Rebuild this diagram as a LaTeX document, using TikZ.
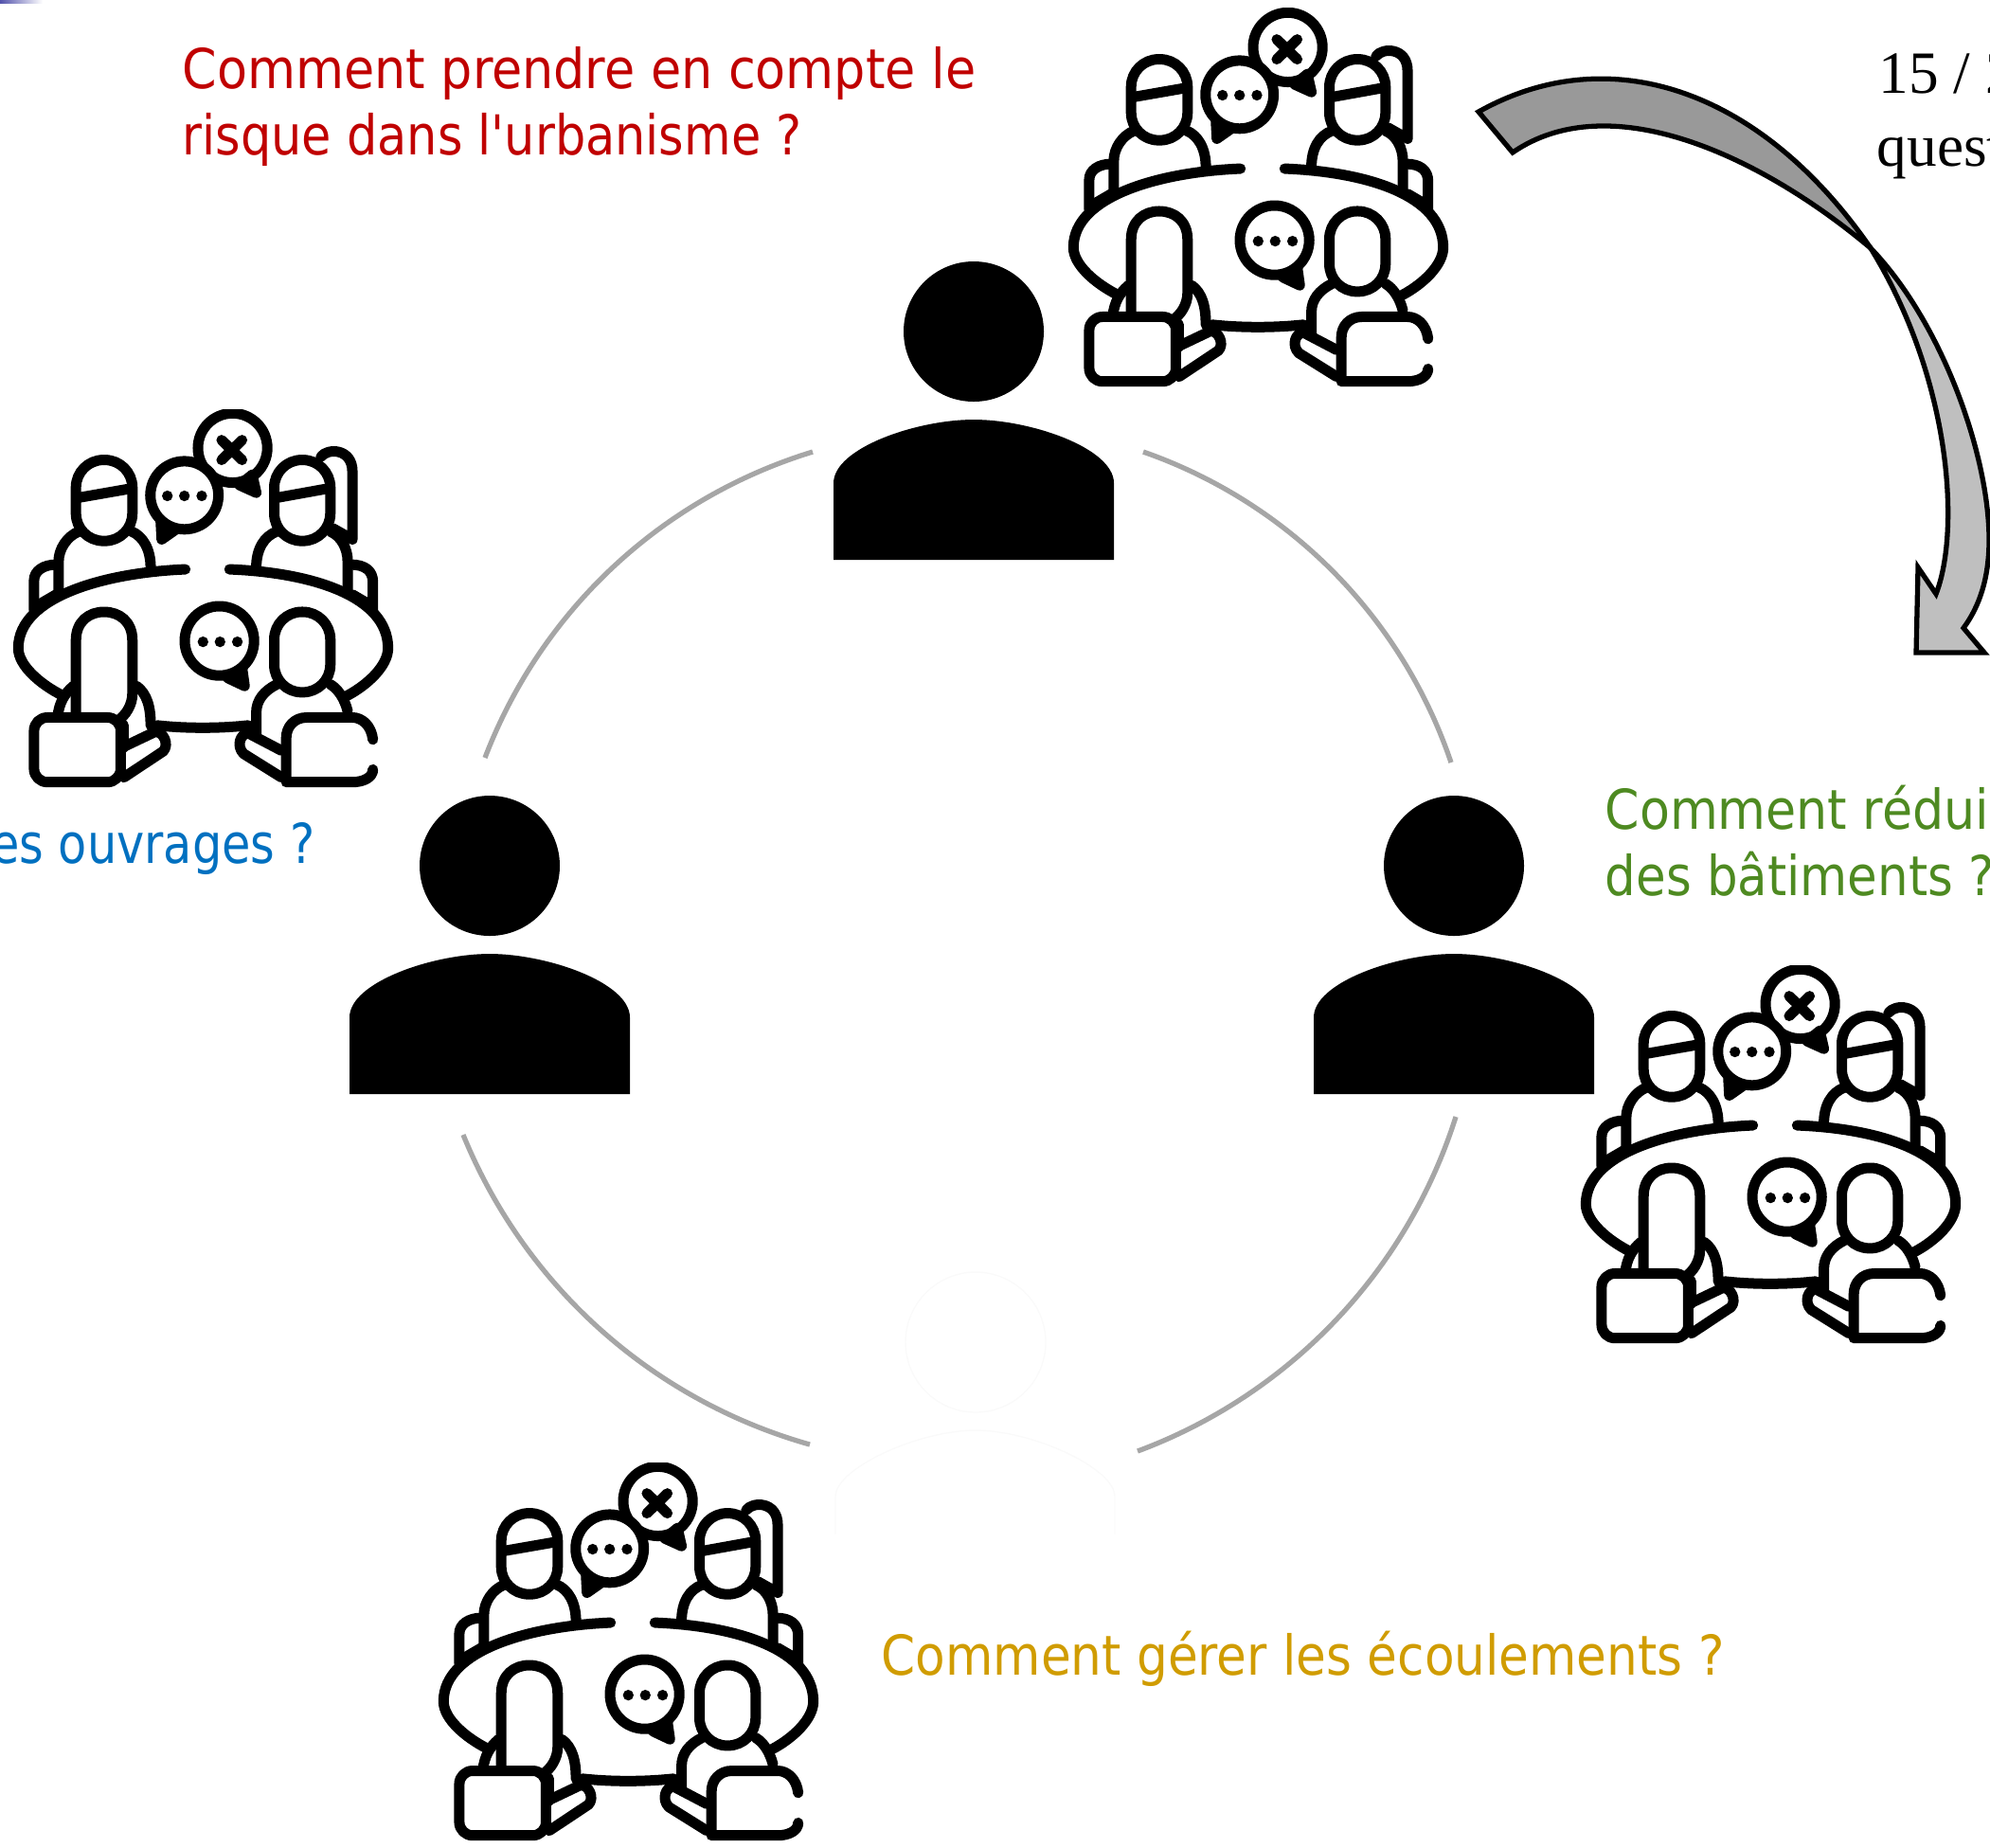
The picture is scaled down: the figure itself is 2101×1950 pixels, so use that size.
\documentclass[tikz,border=0pt]{standalone}
\usepackage{fontspec}
\usepackage{graphicx}
\setmainfont{Liberation Serif}
\newfontfamily\tah{DejaVu Sans Condensed}
\usetikzlibrary{calc}
\definecolor{cred}{HTML}{C00000}
\definecolor{cblue}{HTML}{0070C0}
\definecolor{cgreen}{HTML}{4E8A21}
\definecolor{corange}{HTML}{D09C00}
\definecolor{arcgray}{HTML}{A6A6A6}
\definecolor{arrowdark}{HTML}{999999}
\definecolor{arrowlight}{HTML}{BFBFBF}
\tikzset{
  qtext/.style={anchor=base west,inner sep=0pt,font=\tah\fontsize{16.5}{20}\selectfont},
  serif/.style={anchor=base west,inner sep=0pt,font=\fontsize{18}{22}\selectfont},
  ring/.style={draw=arcgray,line width=1.5pt},
  ringarc/.style={bend left=26,looseness=.9},
  ln/.style={line width=.11cm,line cap=round,line join=round},
  arrowline/.style={draw=black,line width=1.5pt,line join=miter},
  meeting/.pic={
    \begin{scope}[x=.0033333cm,y=-.0033333cm]
      \clip (40,27) rectangle (1270,1226);
      \begin{scope}[ln]
      % back left person
      \draw[rounded corners=.29cm] (253,188) rectangle (432,445);
      \draw (265,307) -- (420,280);
      \draw (198,610) -- (198,510) .. controls (198,470) and (225,430) .. (262,415);
      \draw (430,415) .. controls (465,430) and (490,470) .. (490,530);
      \draw (120,665) -- (120,570) .. controls (120,540) and (150,520) .. (190,520);
      \draw (130,650) -- (190,615);
      % back right person
      \draw[rounded corners=.29cm] (882,188) rectangle (1060,445);
      \draw (895,307) -- (1045,280);
      \draw (825,530) .. controls (825,470) and (850,430) .. (890,415);
      \draw (1060,415) .. controls (1095,430) and (1115,470) .. (1115,510) -- (1115,605);
      \draw (1030,178) .. controls (1050,150) and (1130,150) .. (1130,225) -- (1130,440) -- (1068,405);
      \draw (1125,520) .. controls (1170,520) and (1195,540) .. (1195,575) -- (1195,670);
      \draw (1130,615) -- (1190,650);
      % table
      \draw (600,535) .. controls (350,545) and (70,620) .. (70,785) .. controls (70,840) and (140,900) .. (210,935);
      \draw (740,535) .. controls (1000,545) and (1243,620) .. (1243,785) .. controls (1243,840) and (1180,900) .. (1115,935);
      \draw (510,1030) .. controls (600,1040) and (710,1040) .. (800,1030);
      % bubbles
      \draw (750,150) circle[radius=110];
      \draw[fill=black] (812,235) -- (825,292) -- (772,268) -- cycle;
      \draw (715,125) -- (780,188);
      \draw (780,125) -- (715,188);
      \draw[fill=white] (597,300) circle[radius=108];
      \draw[fill=black] (522,385) -- (525,440) -- (565,412) -- cycle;
      \fill (543,302) circle[radius=17] (597,302) circle[radius=17] (652,302) circle[radius=17];
      \draw (708,762) circle[radius=110];
      \draw[fill=black] (780,848) -- (788,905) -- (735,880) -- cycle;
      \fill (656,765) circle[radius=17] (710,765) circle[radius=17] (765,765) circle[radius=17];
      % front left person
      \draw (253,990) -- (253,760) .. controls (253,700) and (295,670) .. (342,670) .. controls (390,670) and (432,700) .. (432,760) -- (432,930) .. controls (432,965) and (410,1000) .. (385,1015);
      \draw (195,1000) .. controls (200,960) and (215,930) .. (245,905);
      \draw (445,905) .. controls (480,930) and (490,975) .. (490,1030);
      \draw[rounded corners=.14cm] (120,1005) rectangle (395,1210);
      \draw (400,1100) -- (505,1050) .. controls (530,1050) and (550,1090) .. (530,1112) -- (405,1195);
      \draw (405,1030) -- (405,1100);
      % front right person
      \draw[rounded corners=.29cm] (882,670) rectangle (1060,925);
      \draw (825,1065) -- (825,990) .. controls (825,950) and (850,920) .. (890,900);
      \draw (1060,900) .. controls (1085,915) and (1105,945) .. (1115,985);
      \draw (1195,1075) .. controls (1190,1030) and (1160,1005) .. (1130,1005) -- (985,1005) .. controls (945,1005) and (920,1035) .. (920,1070) -- (920,1210) -- (1130,1210) .. controls (1165,1210) and (1195,1195) .. (1195,1170);
      \draw (905,1110) -- (800,1055) .. controls (775,1055) and (760,1095) .. (785,1120) -- (905,1195);
      \end{scope}
    \end{scope}
  },
  person/.pic={
    \fill (0,-91) circle[radius=74];
    \fill (-148,150) -- (-148,69) .. controls (-148,32) and (-60,2) .. (0,2) .. controls (60,2) and (148,32) .. (148,69) -- (148,150) -- cycle;
  },
}
\begin{document}
\begin{tikzpicture}[x=.01cm,y=-.01cm]
\useasboundingbox (0,0) rectangle (2101,1950);
\clip (0,0) rectangle (2101,1950);
\shade[left color=blue!35!gray,right color=white] (0,0) rectangle (45,3);

% ring arcs
\coordinate (a1) at (1207,477); \coordinate (a2) at (1532,805);
\coordinate (b1) at (1537,1179); \coordinate (b2) at (1201,1532);
\coordinate (c1) at (855,1525); \coordinate (c2) at (489,1198);
\coordinate (d1) at (512,800); \coordinate (d2) at (858,477);
\draw[ring] (a1) to[ringarc] (a2);
\draw[ring] (b1) to[ringarc] (b2);
\draw[ring] (c1) to[ringarc] (c2);
\draw[ring] (d1) to[ringarc] (d2);

% persons
\pic at (1028,441) {person};
\pic at (517,1005) {person};
\pic at (1535,1005) {person};
\begin{scope}[draw=black!2,fill=none]
\draw (1030,1417) circle[radius=74];
\draw (882,1620) -- (882,1580) .. controls (882,1550) and (970,1510) .. (1030,1510) .. controls (1090,1510) and (1177,1550) .. (1177,1580) -- (1177,1620);
\end{scope}

% icons
\pic at (1110,0) {meeting};
\pic at (-4,423) {meeting};
\pic at (1651,1010) {meeting};
\pic at (445,1535) {meeting};

% curved arrow
\coordinate (tA) at (1561,118);
\coordinate (tB) at (1597,161);
\coordinate (cr) at (1975,262);
\coordinate (n1) at (2073,663);
\coordinate (bR) at (2095,689);
\coordinate (bL) at (2023,689);
\coordinate (bU) at (2025,599);
\coordinate (n2) at (2044,627);
\draw[arrowline,fill=arrowdark] (tA) .. controls (1700,40) and (1860,95) .. (cr)
  .. controls (1860,165) and (1700,90) .. (tB) -- cycle;
\draw[arrowline,fill=arrowlight] (cr) .. controls (2050,340) and (2100,480) .. (2100,570) .. controls (2100,610) and (2090,640) .. (n1)
  -- (bR) -- (bL) -- (bU) -- (n2) .. controls (2070,560) and (2060,400) .. (cr) -- cycle;

% texts
\node[qtext,text=cred] (q1a) at (192,93) {\scalebox{1.003}[1]{Comment prendre en compte le}};
\node[qtext,text=cred] (q1b) at (192,163) {\scalebox{.975}[1]{risque dans l'urbanisme ?}};
\node[qtext,text=cblue,anchor=base east] (q2) at (333,911) {\scalebox{.945}[1]{es ouvrages ?}};
\node[qtext,text=cgreen] (q3a) at (1694,875) {Comment rédui};
\node[qtext,text=cgreen] (q3b) at (1694,945) {\scalebox{.985}[1]{des bâtiments ?}};
\node[qtext,text=corange] (q4) at (930,1768) {\scalebox{.99}[1]{Comment gérer les écoulements ?}};
\node[serif] (s1) at (1983,98) {15 / 2};
\node[serif] (s2) at (1981,175) {quest};
\end{tikzpicture}
\end{document}
